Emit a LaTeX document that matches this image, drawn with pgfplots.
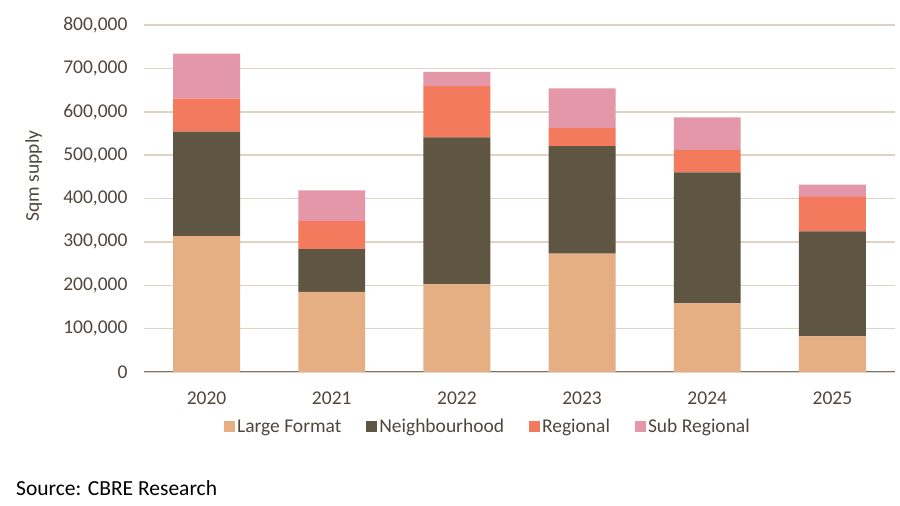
\documentclass[border=0pt]{standalone}
\usepackage{fontspec}
\setmainfont{Carlito}
\usepackage{pgfplots}
\pgfplotsset{compat=1.18}

\definecolor{lfmt}{RGB}{229,175,131}
\definecolor{nbhd}{RGB}{94,85,66}
\definecolor{regn}{RGB}{244,122,94}
\definecolor{subr}{RGB}{228,151,169}
\definecolor{gridc}{RGB}{221,212,198}
\definecolor{axisc}{RGB}{122,116,102}
\definecolor{txtc}{RGB}{80,70,60}

\begin{document}
\begin{tikzpicture}
\path[use as bounding box] (0bp,0bp) rectangle (900bp,506bp);
\begin{axis}[
    at={(144bp,134bp)}, anchor=south west,
    scale only axis,
    width=751bp, height=347bp,
    ybar stacked,
    bar width=0.535,
    xmin=-0.5, xmax=5.5,
    ymin=0, ymax=800000,
    xtick=data,
    xticklabels={2020,2021,2022,2023,2024,2025},
    ytick={0,100000,...,800000},
    scaled y ticks=false,
    /pgf/number format/fixed,
    /pgf/number format/1000 sep={,},
    /pgf/number format/assume math mode=true,
    xticklabel style={yshift=-16bp},
    yticklabel style={xshift=-13bp},
    font=\fontsize{19.5bp}{23bp}\selectfont,
    tick label style={text=txtc},
    major tick length=0pt,
    axis x line*=bottom,
    axis y line*=left,
    axis line style={draw=none},
    ymajorgrids=true,
    grid style={gridc, line width=1.5bp},
    ylabel={Sqm supply},
    ylabel style={at={(axis description cs:-0.147,0.565)}, anchor=center, text=txtc},
    legend columns=4,
    legend style={
        at={(axis description cs:0.458,-0.158)}, anchor=center,
        draw=none, fill=none, text=txtc,
        /tikz/every even column/.append style={column sep=23bp},
    },
    legend image code/.code={
        \fill[#1] (0bp,-5.5bp) rectangle (11bp,5.5bp);
    },
]
\addplot[fill=lfmt, draw=none] coordinates {(0,313000)(1,185000)(2,202000)(3,273000)(4,158000)(5,82000)};
\addplot[fill=nbhd, draw=none] coordinates {(0,241000)(1,98000)(2,339000)(3,248000)(4,302000)(5,242000)};
\addplot[fill=regn, draw=none] coordinates {(0,76000)(1,65000)(2,118000)(3,41000)(4,52000)(5,80000)};
\addplot[fill=subr, draw=none] coordinates {(0,104000)(1,71000)(2,33000)(3,92000)(4,75000)(5,28000)};
\legend{Large Format, Neighbourhood, Regional, Sub Regional}
\draw[axisc, line width=2bp] (axis description cs:0,0) -- (axis description cs:1,0);
\end{axis}
\node[anchor=west, inner sep=0pt, font=\fontsize{21.5bp}{25bp}\selectfont] at (16bp,18bp) {Source: CBRE Research};
\end{tikzpicture}
\end{document}
